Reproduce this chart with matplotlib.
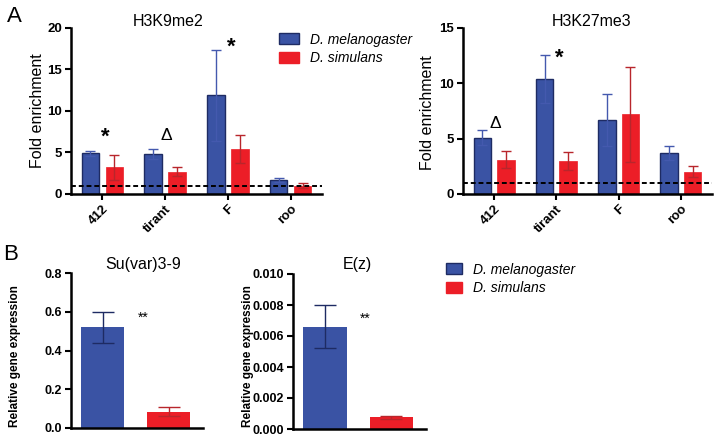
import numpy as np
import matplotlib
matplotlib.use('Agg')
import matplotlib.pyplot as plt
from matplotlib.patches import Patch

plt.rcParams['font.family'] = ['Liberation Sans', 'DejaVu Sans']

# ---- data ----
elements = ['412', 'tirant', 'F', 'roo']
species = ['D. melanogaster', 'D. simulans']

k9_mel = [4.9, 4.8, 11.9, 1.7]
k9_mel_err = [0.3, 0.6, 5.5, 0.2]
k9_sim = [3.2, 2.7, 5.4, 1.0]
k9_sim_err = [1.5, 0.55, 1.7, 0.3]
k9_marks = ['*', '\u0394', '*', '']

k27_mel = [5.1, 10.4, 6.7, 3.7]
k27_mel_err = [0.65, 2.2, 2.35, 0.65]
k27_sim = [3.1, 3.0, 7.2, 2.0]
k27_sim_err = [0.75, 0.8, 4.3, 0.5]
k27_marks = ['\u0394', '*', '', '']

suvar = [0.52, 0.085]
suvar_err = [0.08, 0.025]
ez = [0.0066, 0.00075]
ez_err = [0.0014, 0.0001]

blue = '#3A53A4'
blue_edge = '#1E2B63'
blue_err = '#4459AE'
red = '#EC1E27'
red_err = '#B8262C'

W, H = 717, 438
fig = plt.figure(figsize=(W / 100, H / 100), dpi=100)


def box(x0, y0, x1, y1):
    return [x0 / W, 1 - y1 / H, (x1 - x0) / W, (y1 - y0) / H]


def px(x, y):
    return x / W, 1 - y / H


def style(ax):
    for s in ['top', 'right']:
        ax.spines[s].set_visible(False)
    for s in ['left', 'bottom']:
        ax.spines[s].set_linewidth(1.8)
    ax.tick_params(width=1.5, length=4, labelsize=9.5, pad=2.5)
    for lab in ax.get_yticklabels():
        lab.set_fontweight('bold')


def enrich_panel(ax, mel, mel_err, sim, sim_err, marks, ymax, step, mark_y):
    x = np.arange(len(elements))
    w = 0.28
    ax.bar(x - 0.19, mel, w, color=blue, edgecolor=blue_edge, linewidth=1.0, zorder=2)
    ax.bar(x + 0.19, sim, w, color=red, edgecolor=red, linewidth=0.5, zorder=2)
    ax.errorbar(x - 0.19, mel, yerr=mel_err, fmt='none', ecolor=blue_err,
                elinewidth=1.0, capsize=3.5, capthick=1.0, zorder=3)
    ax.errorbar(x + 0.19, sim, yerr=sim_err, fmt='none', ecolor=red_err,
                elinewidth=1.0, capsize=3.5, capthick=1.0, zorder=3)
    ax.axhline(1, color='k', ls=(0, (2.5, 1.5)), lw=1.4, zorder=4)
    ax.set_xlim(-0.5, len(elements) - 0.5)
    ax.set_ylim(0, ymax)
    ax.set_yticks(np.arange(0, ymax + 0.1, step))
    ax.set_xticks(x)
    ax.set_xticklabels(elements, rotation=45, ha='right', rotation_mode='anchor',
                       fontweight='bold', fontsize=9)
    style(ax)
    for i, m in enumerate(marks):
        if m == '*':
            ax.text(i + 0.05, mark_y[i], m, ha='center', va='center',
                    fontsize=16, fontweight='bold')
        elif m:
            ax.text(i + 0.02, mark_y[i], m, ha='center', va='center', fontsize=12.5)


# ---- panel A ----
axA1 = fig.add_axes(box(71, 28, 322, 194))
enrich_panel(axA1, k9_mel, k9_mel_err, k9_sim, k9_sim_err, k9_marks, 20, 5,
             [6.9, 7.0, 17.7, 0])
axA2 = fig.add_axes(box(463, 28, 712, 194))
enrich_panel(axA2, k27_mel, k27_mel_err, k27_sim, k27_sim_err, k27_marks, 15, 5,
             [6.4, 12.3, 0, 0])

fig.text(*px(168, 22), 'H3K9me2', ha='center', va='center', fontsize=11.5)
fig.text(*px(592, 22), 'H3K27me3', ha='center', va='center', fontsize=11.5)
fig.text(*px(37, 111), 'Fold enrichment', ha='center', va='center', rotation=90, fontsize=11.5)
fig.text(*px(428, 113), 'Fold enrichment', ha='center', va='center', rotation=90, fontsize=11.5)
fig.text(*px(14, 16), 'A', ha='center', va='center', fontsize=16)

handles = [Patch(facecolor=blue, edgecolor=blue_edge), Patch(facecolor=red, edgecolor=red)]
leg_font = {'style': 'italic', 'size': 10}
fig.legend(handles, species, loc='upper left', bbox_to_anchor=px(273, 27), frameon=False,
           prop=leg_font, handlelength=1.45, handleheight=0.8, labelspacing=0.35,
           handletextpad=0.8, borderaxespad=0)

# ---- panel B ----
def expr_panel(ax, vals, errs, ymax, step, fmt, star_y):
    x = np.arange(len(vals))
    w = 0.65
    ax.bar(x, vals, w, color=[blue, red], zorder=2)
    for xi, v, e, c in zip(x, vals, errs, [blue_edge, red_err]):
        ax.errorbar(xi, v, yerr=e, fmt='none', ecolor=c,
                    elinewidth=1.0, capsize=8, capthick=1.0, zorder=3)
    ax.set_xlim(-0.48, 1.52)
    ax.set_ylim(0, ymax)
    ax.set_yticks(np.arange(0, ymax + ymax / 100, step))
    ax.yaxis.set_major_formatter(matplotlib.ticker.FormatStrFormatter(fmt))
    ax.set_xticks([])
    style(ax)
    ax.tick_params(axis='y', labelsize=9)
    ax.text(0.61, star_y, '**', ha='center', va='center', fontsize=10)


axB1 = fig.add_axes(box(71, 273, 203, 428))
expr_panel(axB1, suvar, suvar_err, 0.8, 0.2, '%.1f', 0.57)
axB2 = fig.add_axes(box(293, 274, 426, 429))
expr_panel(axB2, ez, ez_err, 0.010, 0.002, '%.3f', 0.0071)
for lab in axB1.get_yticklabels() + axB2.get_yticklabels():
    lab.set_fontweight('bold')

fig.text(*px(143, 265), 'Su(var)3-9', ha='center', va='center', fontsize=11.5)
fig.text(*px(357, 265), 'E(z)', ha='center', va='center', fontsize=11.5)
fig.text(*px(15, 356), 'Relative gene expression', ha='center', va='center',
         rotation=90, fontsize=8.5, fontweight='bold')
fig.text(*px(248, 356), 'Relative gene expression', ha='center', va='center',
         rotation=90, fontsize=8.5, fontweight='bold')
fig.text(*px(11, 254), 'B', ha='center', va='center', fontsize=16)

fig.legend(handles, species, loc='upper left', bbox_to_anchor=px(440, 257), frameon=False,
           prop=leg_font, handlelength=1.2, handleheight=0.8, labelspacing=0.35,
           handletextpad=0.8, borderaxespad=0)

fig.savefig('out.png', dpi=100)
